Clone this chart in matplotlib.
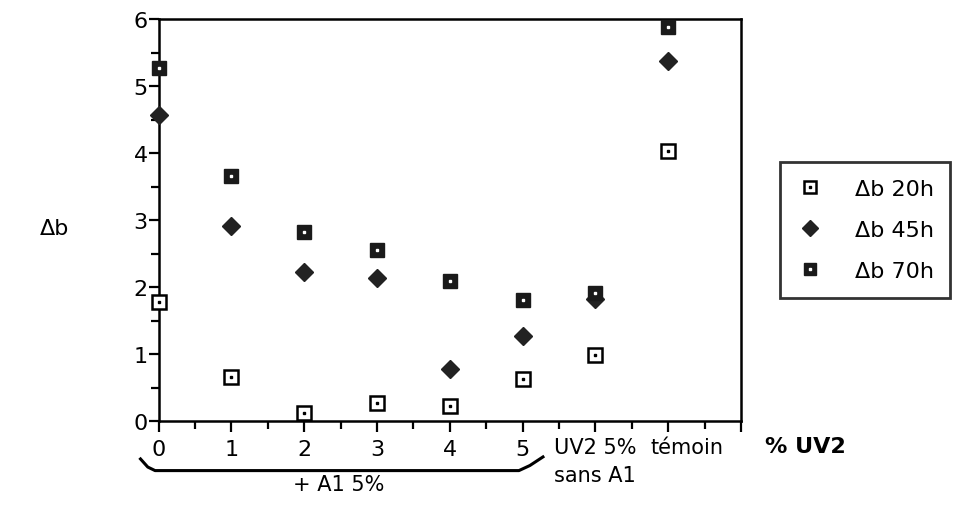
import matplotlib
matplotlib.use("Agg")
import matplotlib.pyplot as plt
import matplotlib.transforms as mtransforms
from matplotlib.lines import Line2D
from matplotlib.legend_handler import HandlerTuple
import numpy as np

# x positions: 0..5 = % UV2 (+ A1 5%), 6 = UV2 5% sans A1, 7 = témoin
x_pos = [0, 1, 2, 3, 4, 5, 6, 7]
db_20h = [1.78, 0.66, 0.12, 0.27, 0.22, 0.63, 0.99, 4.03]
db_45h = [4.57, 2.91, 2.22, 2.13, 0.78, 1.27, 1.82, 5.37]
db_70h = [5.27, 3.66, 2.82, 2.55, 2.09, 1.81, 1.91, 5.88]
tick_labels = ["0", "1", "2", "3", "4", "5"]
extra_labels = ["UV2 5%\nsans A1", "témoin"]

plt.rcParams['font.family'] = ['DejaVu Sans']

fig = plt.figure(figsize=(9.56, 5.06), dpi=100)
ax = fig.add_axes([0.166, 0.166, 0.609, 0.794])

ms = 9.5
# 20h: open square with a dot in the middle
ax.plot(x_pos, db_20h, ls='none', marker='s', ms=ms, mfc='white', mec='black', mew=1.8, clip_on=False, zorder=3)
ax.plot(x_pos, db_20h, ls='none', marker='s', ms=2, mfc='black', mec='black', clip_on=False, zorder=4)
# 45h: filled diamond
ax.plot(x_pos, db_45h, ls='none', marker='D', ms=8.8, mfc='#222222', mec='#222222', clip_on=False, zorder=3)
# 70h: filled square with a white dot
ax.plot(x_pos, db_70h, ls='none', marker='s', ms=ms + 1, mfc='#1a1a1a', mec='#1a1a1a', clip_on=False, zorder=3)
ax.plot(x_pos, db_70h, ls='none', marker='s', ms=2, mfc='white', mec='white', clip_on=False, zorder=4)

ax.set_xlim(0, 8)
ax.set_ylim(0, 6)
ax.set_xticks(np.arange(0, 9))
ax.set_xticks(np.arange(0.5, 8, 1), minor=True)
ax.set_xticklabels(tick_labels + ["", "", ""], fontsize=16)
ax.set_yticks(np.arange(0, 7))
ax.set_yticks(np.arange(0.5, 6, 1), minor=True)
ax.tick_params(axis='y', labelsize=16, length=7, width=1.6, direction='out', pad=1)
ax.tick_params(axis='x', length=8, width=1.6, direction='out', pad=5)
ax.tick_params(which='minor', length=6, width=1.6)
for s in ax.spines.values():
    s.set_linewidth(1.8)

# the two last categories are written by hand under the axis
lab_trans = mtransforms.blended_transform_factory(ax.transData, fig.transFigure)
ax.text(x_pos[6], 0.135, extra_labels[0], transform=lab_trans, fontsize=15,
        ha='center', va='top', linespacing=1.55)
ax.text(x_pos[7] + 0.26, 0.135, extra_labels[1], transform=lab_trans, fontsize=15,
        ha='center', va='top')

# y label, horizontal at the far left
fig.text(0.042, 0.548, "Δb", fontsize=16, ha='left', va='center')
# x label at right of axis
fig.text(0.800, 0.117, "% UV2", fontsize=16, ha='left', va='center', fontweight='bold')

# bracket below ticks 0..5
ax.add_line(Line2D([-0.25, -0.15, -0.05, 4.95, 5.1, 5.28],
                   [0.091, 0.075, 0.068, 0.068, 0.078, 0.095],
                   transform=lab_trans, color='black', lw=2.2, clip_on=False))
fig.text(0.354, 0.022, "+ A1 5%", fontsize=15, ha='center', va='bottom')

# legend box
h20 = (Line2D([], [], ls='none', marker='s', ms=8, mfc='white', mec='black', mew=1.8),
       Line2D([], [], ls='none', marker='s', ms=1.8, mfc='black', mec='black'))
h45 = Line2D([], [], ls='none', marker='D', ms=8, mfc='#222222', mec='#222222')
h70 = (Line2D([], [], ls='none', marker='s', ms=8.5, mfc='#1a1a1a', mec='#1a1a1a'),
       Line2D([], [], ls='none', marker='s', ms=1.8, mfc='white', mec='white'))
leg = fig.legend([h20, h45, h70], ["Δb 20h", "Δb 45h", "Δb 70h"], loc='center left',
                 bbox_to_anchor=(0.816, 0.544), fontsize=16, frameon=True, fancybox=False,
                 edgecolor='black', borderpad=0.75, labelspacing=0.95, handletextpad=1.4,
                 handlelength=1.2, borderaxespad=0,
                 handler_map={tuple: HandlerTuple(ndivide=1, pad=0)})
leg.get_frame().set_linewidth(2.0)

fig.savefig("out.png", dpi=100)
